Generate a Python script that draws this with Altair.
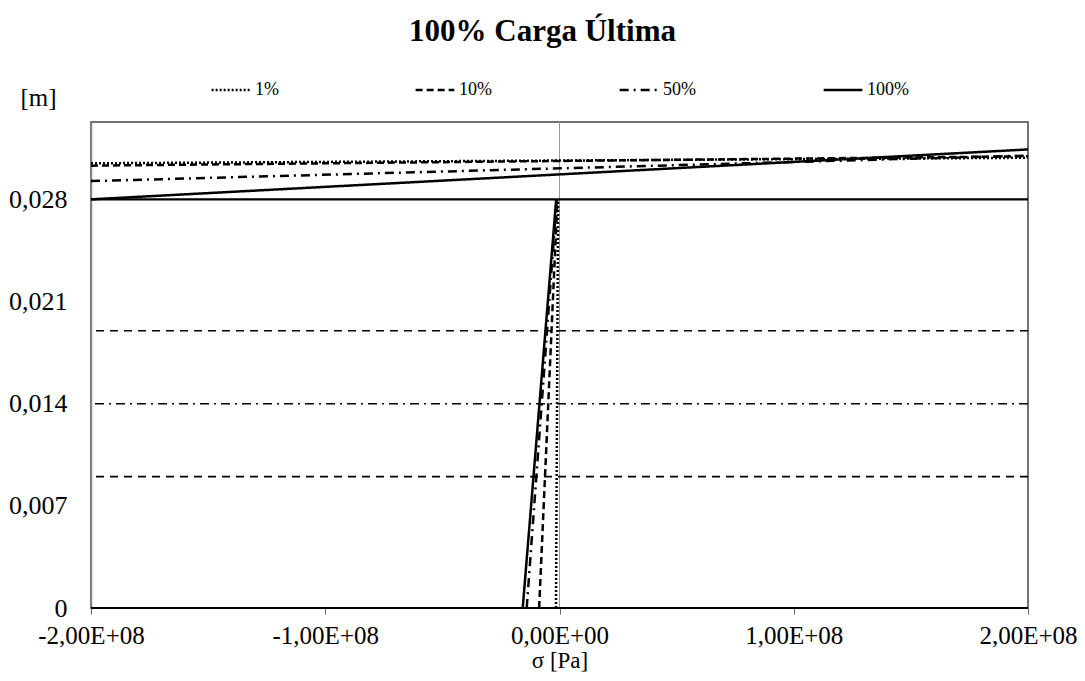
import altair as alt
import pandas as pd

# ---- data ----
series = ["1%", "10%", "50%", "100%"]
# nearly vertical stress lines (sigma at bottom and at y = 0.028)
stem_bottom_sigma = [-1.5e6, -8.7e6, -1.4e7, -1.57e7]
stem_top_sigma = [-0.6e6, -0.9e6, -1.2e6, -1.4e6]
stem_bottom_y = [0.0, 0.0, 0.0, 0.0]
stem_top_y = [0.028, 0.028, 0.028, 0.028]
# upper, almost horizontal lines (value at sigma = -2e8 and +2e8)
upper_sigma = [-2.0e8, 2.0e8]
upper_left_y = [0.03047, 0.03031, 0.02925, 0.02800]
upper_right_y = [0.03085, 0.03095, 0.03100, 0.03142]

# horizontal reference levels
ref_levels = [0.028, 0.019, 0.014, 0.009, 0.0]
ref_styles = ["solid", "dashed", "dashdot", "dashed", "solid"]

x_ticks = [-2e8, -1e8, 0, 1e8, 2e8]
y_ticks = [0, 0.007, 0.014, 0.021, 0.028]

# ---- build tables ----
rows = []
for i, s in enumerate(series):
    rows.append({"series": s, "seg": s + "-stem", "sigma": stem_bottom_sigma[i], "y": stem_bottom_y[i], "ord": 0})
    rows.append({"series": s, "seg": s + "-stem", "sigma": stem_top_sigma[i], "y": stem_top_y[i], "ord": 1})
    rows.append({"series": s, "seg": s + "-up", "sigma": upper_sigma[0], "y": upper_left_y[i], "ord": 0})
    rows.append({"series": s, "seg": s + "-up", "sigma": upper_sigma[1], "y": upper_right_y[i], "ord": 1})
lines_df = pd.DataFrame(rows)
ref_df = pd.DataFrame({"y": ref_levels, "style": ref_styles})
zero_df = pd.DataFrame({"sigma": [0.0]})

FONT = "Liberation Serif"

x_enc = alt.X(
    "sigma:Q",
    scale=alt.Scale(domain=[-2e8, 2e8], nice=False, zero=False),
    axis=alt.Axis(
        values=x_ticks,
        labelExpr="(datum.value < 0 ? '-' : '') + replace(format(abs(datum.value) / 1e8, '.2f'), '.', ',') + (datum.value == 0 ? 'E+00' : 'E+08')",
        labelFont=FONT, labelFontSize=25, labelColor="black", labelPadding=9,
        labelFlush=False, labelOverlap=False,
        tickSize=6, tickColor="#666", domain=False, grid=False,
        title="σ [Pa]", titleFont=FONT, titleFontSize=23, titleFontWeight="normal",
        titleColor="black", titlePadding=1,
    ),
)
y_enc = alt.Y(
    "y:Q",
    scale=alt.Scale(domain=[0, 0.0333], nice=False, zero=False),
    axis=alt.Axis(
        values=y_ticks,
        labelExpr="datum.value == 0 ? '0' : replace(format(datum.value, '.3f'), '.', ',')",
        labelFont=FONT, labelFontSize=26, labelColor="black", labelPadding=24,
        labelOverlap=False,
        ticks=False, grid=False, domainColor="#888", domainWidth=1.5,
        title="[m]", titleAngle=0, titleX=-71, titleY=-25, titleAlign="left",
        titleBaseline="middle", titleFont=FONT, titleFontSize=25,
        titleFontWeight="normal", titleColor="black",
    ),
)

zero_rule = alt.Chart(zero_df).mark_rule(color="#999999", strokeWidth=1).encode(x=x_enc)

dash_map = {"solid": [1, 0], "dashed": [8, 6], "dashdot": [9, 5, 2, 5]}
ref_layers = [
    alt.Chart(ref_df).transform_filter(alt.datum.style == st)
    .mark_rule(color="black", strokeWidth=2.2 if st == "solid" else 1.6, strokeDash=dash_map[st])
    .encode(y=y_enc)
    for st in ["solid", "dashed", "dashdot"]
]

dashes = [[2, 2], [7, 4], [9, 5, 2, 5], [1, 0]]
lines = alt.Chart(lines_df).mark_line(color="black", strokeWidth=2.5, clip=True).encode(
    x=x_enc,
    y=y_enc,
    detail="seg:N",
    order="ord:Q",
    strokeDash=alt.StrokeDash(
        "series:N",
        scale=alt.Scale(domain=series, range=dashes),
        legend=alt.Legend(
            title=None, orient="none", legendX=119, legendY=-53, direction="horizontal",
            columns=4, gridAlign="all", columnPadding=113, symbolType="stroke",
            symbolSize=1500, symbolStrokeWidth=2.5, symbolStrokeColor="black",
            labelFont=FONT, labelFontSize=18, labelColor="black", labelOffset=3, padding=0,
        ),
    ),
)

chart = (
    alt.layer(zero_rule, *ref_layers, lines)
    .properties(
        width=937,
        height=486,
        autosize=alt.AutoSizeParams(type="none"),
        padding={"left": 83, "top": 114, "right": 49, "bottom": 65},
        title=alt.TitleParams(
            "100% Carga Última", font=FONT, fontSize=31, fontWeight="bold",
            color="black", anchor="middle", dx=-17, offset=21,
        ),
    )
    .configure_view(stroke="#444444", strokeWidth=1.5)
)

chart.save("out.html", embed_options={"renderer": "svg", "actions": False})
